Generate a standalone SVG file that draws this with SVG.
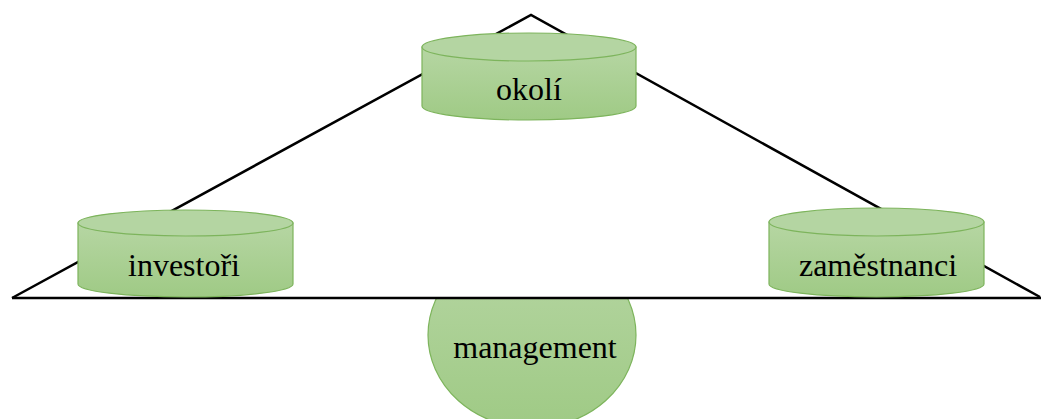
<svg xmlns="http://www.w3.org/2000/svg" width="1041" height="419" viewBox="0 0 1041 419">
<style>
.cyl{fill:url(#g);stroke:#7db45c;stroke-width:1.2}
.top{fill:#b4d5a2;stroke:#7db45c;stroke-width:1.2}
.lbl{font-family:"Liberation Serif",serif;font-size:32px;fill:#000;text-anchor:middle}
.edge{stroke:#000;stroke-width:2.5;fill:none}
</style>
<defs>
<linearGradient id="g" x1="0" y1="0" x2="0" y2="1">
<stop offset="0" stop-color="#b6d6a3"/>
<stop offset="1" stop-color="#9fca85"/>
</linearGradient>
<clipPath id="below"><rect x="0" y="298" width="1041" height="121"/></clipPath>
</defs>
<rect width="1041" height="419" fill="#fff"/>
<g id="connectors">
<path class="edge" d="M12,298 L531,15 L1040,297"/>
</g>
<g id="management">
<ellipse class="cyl" cx="532" cy="335" rx="104" ry="93" clip-path="url(#below)"/>
<text class="lbl" x="535" y="358">management</text>
</g>
<g id="baseline">
<line class="edge" x1="12" y1="298" x2="1041" y2="298"/>
</g>
<g id="okoli">
<path class="cyl" d="M422,47 L422,106 A107,14 0 0 0 636,106 L636,47 Z"/>
<ellipse class="top" cx="529" cy="47" rx="107" ry="14"/>
<text class="lbl" x="529" y="100">okolí</text>
</g>
<g id="investori">
<path class="cyl" d="M78,223 L78,284 A107.5,13 0 0 0 293,284 L293,223 Z"/>
<ellipse class="top" cx="185.5" cy="223" rx="107.5" ry="13"/>
<text class="lbl" x="184" y="276">investoři</text>
</g>
<g id="zamestnanci">
<path class="cyl" d="M769,222 L769,284 A107.5,13 0 0 0 984,284 L984,222 Z"/>
<ellipse class="top" cx="876.5" cy="222" rx="107.5" ry="14"/>
<text class="lbl" x="878" y="276">zaměstnanci</text>
</g>
</svg>
